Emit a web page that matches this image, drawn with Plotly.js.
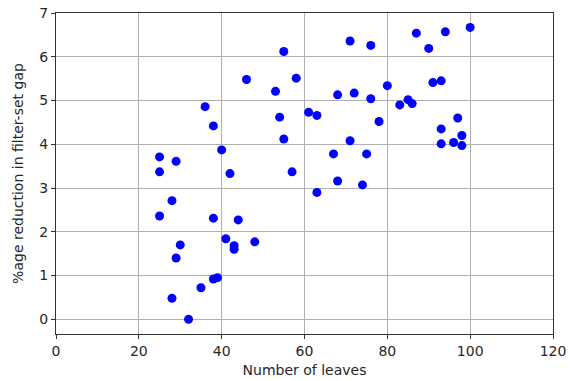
<!DOCTYPE html>
<html>
<head>
<meta charset="utf-8">
<script src="https://cdn.plot.ly/plotly-3.0.1.min.js"></script>
<style>html,body{margin:0;padding:0;background:#fff;}#chart{width:571px;height:381px;}</style>
</head>
<body>
<div id="chart"></div>
<script>
const leaves = [25, 25, 29, 28, 25, 30, 29, 28, 32, 35, 38, 39, 38, 41, 43, 43, 44, 48, 36, 38,
  40, 42, 46, 55, 53, 54, 55, 57, 58, 61, 63, 63, 68, 67, 71, 74, 75, 68, 72, 76,
  78, 80, 71, 76, 83, 85, 86, 87, 90, 91, 93, 94, 100, 97, 93, 93, 96, 98, 98];
const reduction = [3.71, 3.37, 3.61, 2.71, 2.36, 1.70, 1.40, 0.48, 0.00, 0.72, 0.92, 0.95, 2.31, 1.84, 1.68, 1.60, 2.27, 1.77, 4.86, 4.42,
  3.87, 3.33, 5.48, 6.12, 5.21, 4.62, 4.12, 3.37, 5.51, 4.73, 4.66, 2.90, 3.16, 3.78, 4.08, 3.07, 3.78, 5.13, 5.17, 5.04,
  4.52, 5.34, 6.36, 6.26, 4.90, 5.02, 4.93, 6.54, 6.19, 5.41, 5.45, 6.57, 6.67, 4.60, 4.35, 4.01, 4.04, 4.20, 3.97];
const xTicks = [0, 20, 40, 60, 80, 100, 120];
const yTicks = [0, 1, 2, 3, 4, 5, 6, 7];

const font = {family: 'DejaVu Sans', size: 14, color: '#262626'};
const axisCommon = {
  showline: true, mirror: true, linecolor: '#333', linewidth: 1,
  ticks: 'outside', ticklen: 4, tickwidth: 1, tickcolor: '#333',
  showgrid: true, gridcolor: '#b0b0b0', gridwidth: 1,
  zeroline: false,
  tickfont: font
};

Plotly.newPlot('chart', [{
  type: 'scatter', mode: 'markers', x: leaves, y: reduction,
  marker: {color: '#0000ff', size: 9}, hoverinfo: 'none'
}], {
  width: 571, height: 381,
  margin: {l: 56, r: 18, t: 13, b: 47},
  paper_bgcolor: '#fff', plot_bgcolor: '#fff',
  showlegend: false,
  xaxis: Object.assign({}, axisCommon, {
    range: [0, 120], tickvals: xTicks,
    title: {text: 'Number of leaves', font: font, standoff: 7}
  }),
  yaxis: Object.assign({}, axisCommon, {
    range: [-0.337, 7], tickvals: yTicks,
    title: {text: '%age reduction in filter-set gap', font: font, standoff: 12}
  })
}, {staticPlot: true});
</script>
</body>
</html>
